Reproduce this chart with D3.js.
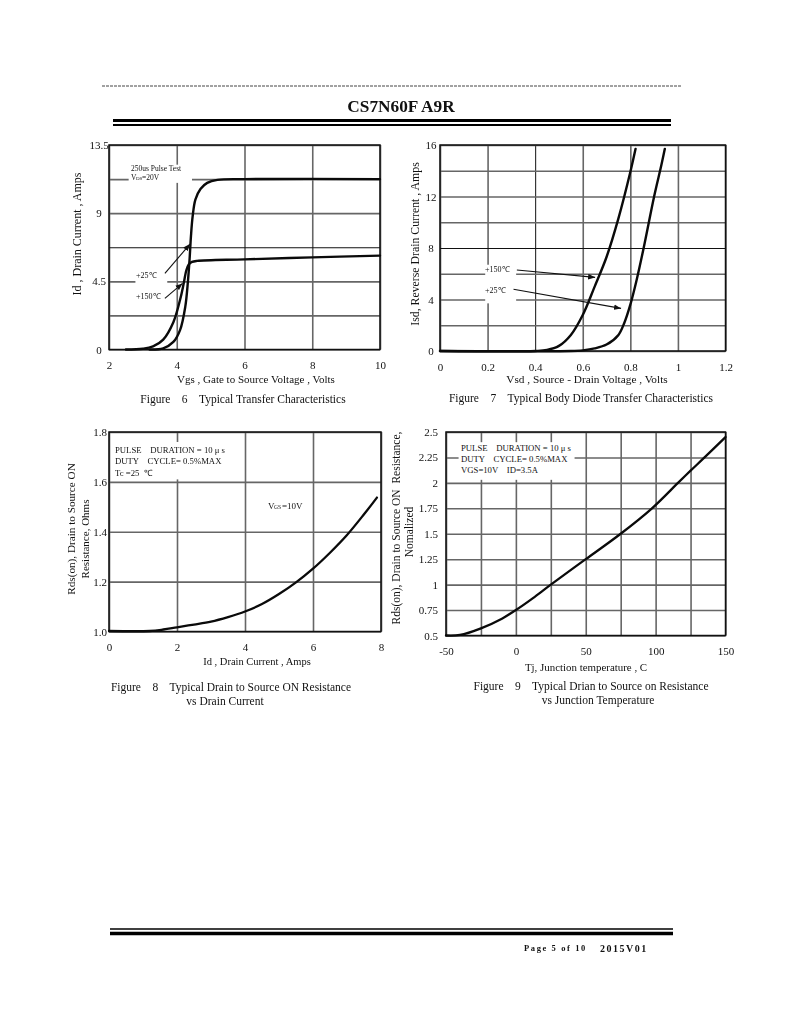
<!DOCTYPE html>
<html>
<head>
<meta charset="utf-8">
<script src="https://cdn.jsdelivr.net/npm/d3@7"></script>
<style>
body { margin: 0; background: #fff; }
svg { display: block; filter: blur(0.4px); }
text { font-family: "Liberation Serif", serif; fill: #111; white-space: pre; }
.domain { display: none; }
</style>
</head>
<body>
<svg id="page" width="800" height="1035"></svg>
<script>
// figure 6 - transfer characteristics
var fig6X = [2, 4, 6, 8, 10];
var fig6Y = [0, 2.25, 4.5, 6.75, 9, 11.25, 13.5];
var fig6YLabels = ["0", "", "4.5", "", "9", "", "13.5"];
var vgs25 = [3.2, 3.6, 3.9, 4.1, 4.25, 4.33, 4.38, 4.42, 4.47, 4.55, 4.7, 4.9, 5.2, 6, 10];
var id25 = [0, 0.08, 0.5, 1.3, 2.8, 4.5, 6, 7.5, 8.8, 9.9, 10.6, 11, 11.2, 11.25, 11.25];
var vgs150 = [2.5, 3, 3.3, 3.6, 3.9, 4.1, 4.2, 4.28, 4.35, 4.45, 4.6, 6, 8, 10];
var id150 = [0, 0.05, 0.2, 0.65, 1.8, 3.3, 4.3, 5.2, 5.6, 5.78, 5.85, 5.95, 6.08, 6.2];

// figure 7 - body diode
var fig7X = [0, 0.2, 0.4, 0.6, 0.8, 1, 1.2];
var fig7Y = [0, 2, 4, 6, 8, 10, 12, 14, 16];
var fig7YLabels = ["0", "", "4", "", "8", "", "12", "", "16"];
var vsd150 = [0, 0.4, 0.45, 0.5, 0.55, 0.6, 0.65, 0.7, 0.75, 0.8, 0.822];
var isd150 = [0, 0, 0.08, 0.4, 1.25, 2.8, 5, 7.3, 10.3, 13.9, 15.7];
var vsd25 = [0, 0.55, 0.6, 0.65, 0.7, 0.75, 0.775, 0.8, 0.825, 0.856, 0.9, 0.93, 0.945];
var isd25 = [0, 0, 0.05, 0.2, 0.5, 1.25, 2.2, 3.6, 5.4, 8, 12, 14.4, 15.7];

// figure 8 - on resistance vs drain current
var fig8X = [0, 2, 4, 6, 8];
var fig8Y = [1, 1.2, 1.4, 1.6, 1.8];
var fig8YLabels = ["1.0", "1.2", "1.4", "1.6", "1.8"];
var idCurrent = [0, 1.2, 1.6, 2, 2.5, 3, 3.5, 4, 4.5, 5, 5.5, 6, 6.5, 7, 7.5, 7.88];
var rdsOn = [1.002, 1.002, 1.008, 1.017, 1.028, 1.04, 1.058, 1.08, 1.11, 1.15, 1.197, 1.252, 1.316, 1.387, 1.47, 1.537];

// figure 9 - on resistance vs temperature
var fig9X = [-50, -25, 0, 25, 50, 75, 100, 125, 150];
var fig9XLabels = ["-50", "", "0", "", "50", "", "100", "", "150"];
var fig9Y = [0.5, 0.75, 1, 1.25, 1.5, 1.75, 2, 2.25, 2.5];
var fig9YLabels = ["0.5", "0.75", "1", "1.25", "1.5", "1.75", "2", "2.25", "2.5"];
var tj = [-50, -40, -25, -10, 0, 12, 25, 50, 75, 97, 116, 125, 135, 150];
var rdsNorm = [0.5, 0.505, 0.57, 0.665, 0.75, 0.865, 1, 1.25, 1.5, 1.745, 2, 2.12, 2.25, 2.45];

var svg = d3.select("#page");

svg.append("defs").append("marker")
  .attr("id", "arrow")
  .attr("viewBox", "0 0 10 8")
  .attr("refX", 10)
  .attr("refY", 4)
  .attr("markerWidth", 7)
  .attr("markerHeight", 6)
  .attr("markerUnits", "userSpaceOnUse")
  .attr("orient", "auto")
  .append("path")
  .attr("d", "M0,0L10,4L0,8Z")
  .attr("fill", "#111");

function txt(s, x, y, size, anchor, weight) {
  return svg.append("text")
    .attr("x", x)
    .attr("y", y)
    .attr("dy", "0.35em")
    .attr("font-size", size)
    .attr("text-anchor", anchor || "middle")
    .attr("font-weight", weight || "normal")
    .text(s);
}

function vtxt(s, x, y, size) {
  return svg.append("text")
    .attr("transform", "translate(" + x + "," + y + ") rotate(-90)")
    .attr("dy", "0.35em")
    .attr("font-size", size)
    .attr("text-anchor", "middle")
    .text(s);
}

// draws frame, grid and tick labels, hands back the scales
function panel(c) {
  var x = d3.scaleLinear().domain(c.xDomain).range([c.left, c.right]);
  var y = d3.scaleLinear().domain(c.yDomain).range([c.bottom, c.top]);
  var g = svg.append("g");

  g.append("g")
    .attr("transform", "translate(0," + c.bottom + ")")
    .call(d3.axisBottom(x).tickValues(c.xTicks).tickSize(-(c.bottom - c.top)).tickPadding(12)
      .tickFormat(function (d, i) { return c.xLabels ? c.xLabels[i] : d; }))
    .call(styleAxis, c.thinX);

  var yAxis = g.append("g")
    .attr("transform", "translate(" + c.left + ",0)")
    .call(d3.axisLeft(y).tickValues(c.yTicks).tickSize(-(c.right - c.left)).tickPadding(c.yPad)
      .tickFormat(function (d, i) { return c.yLabels[i]; }))
    .call(styleAxis, c.thinY);

  if (c.yMiddle) {
    yAxis.selectAll(".tick text").attr("text-anchor", "middle");
  }

  // white boxes that keep the grid away from the notes
  (c.masks || []).forEach(function (m) {
    g.append("rect")
      .attr("x", x(m[0]))
      .attr("y", y(m[3]))
      .attr("width", x(m[1]) - x(m[0]))
      .attr("height", y(m[2]) - y(m[3]))
      .attr("fill", "#fff");
  });

  g.append("rect")
    .attr("x", c.left)
    .attr("y", c.top)
    .attr("width", c.right - c.left)
    .attr("height", c.bottom - c.top)
    .attr("fill", "none")
    .attr("stroke", "#111")
    .attr("stroke-width", 1.5);

  return { x: x, y: y };
}

function styleAxis(sel, thin) {
  sel.selectAll(".tick line")
    .attr("stroke", function (d) { return thin && thin.includes(d) ? "#111" : "#666"; })
    .attr("stroke-width", function (d) { return thin && thin.includes(d) ? 1 : 1.6; });
  sel.selectAll(".tick text")
    .attr("font-size", 11)
    .attr("fill", "#222");
}

function curve(s, xs, ys, width) {
  var line = d3.line()
    .x(function (d) { return s.x(d); })
    .y(function (d, i) { return s.y(ys[i]); })
    .curve(d3.curveCatmullRom.alpha(0.5));
  svg.append("path")
    .attr("d", line(xs))
    .attr("fill", "none")
    .attr("stroke", "#0a0a0a")
    .attr("stroke-width", width)
    .attr("stroke-linecap", "round");
}

function arrow(s, x0, y0, x1, y1) {
  svg.append("line")
    .attr("x1", s.x(x0)).attr("y1", s.y(y0))
    .attr("x2", s.x(x1)).attr("y2", s.y(y1))
    .attr("stroke", "#111")
    .attr("stroke-width", 1.1)
    .attr("marker-end", "url(#arrow)");
}

// page furniture
svg.append("line").attr("x1", 102).attr("x2", 682).attr("y1", 86).attr("y2", 86)
  .attr("stroke", "#444").attr("stroke-width", 1).attr("stroke-dasharray", "3,1");
txt("CS7N60F A9R", 401, 106, 17.3, "middle", "bold");
svg.append("line").attr("x1", 113).attr("x2", 671).attr("y1", 120.5).attr("y2", 120.5)
  .attr("stroke", "#000").attr("stroke-width", 3);
svg.append("line").attr("x1", 113).attr("x2", 671).attr("y1", 125).attr("y2", 125)
  .attr("stroke", "#000").attr("stroke-width", 2);
svg.append("line").attr("x1", 110).attr("x2", 673).attr("y1", 929).attr("y2", 929)
  .attr("stroke", "#000").attr("stroke-width", 1.5);
svg.append("line").attr("x1", 110).attr("x2", 673).attr("y1", 933.5).attr("y2", 933.5)
  .attr("stroke", "#000").attr("stroke-width", 3.5);
txt("Page 5 of 10", 524, 948, 8.5, "start", "bold").attr("letter-spacing", 1.6);
txt("2015V01", 600, 948, 10, "start", "bold").attr("letter-spacing", 1.5);

// figure 6
var s6 = panel({
  left: 109, right: 380, top: 145, bottom: 349.5,
  xDomain: [2, 10], yDomain: [0, 13.5],
  xTicks: fig6X, yTicks: fig6Y, yLabels: fig6YLabels,
  thinY: [6.75], yPad: 10, yMiddle: true,
  masks: [[2.58, 4.45, 11, 12.2], [2.78, 3.72, 3.2, 5.3]]
});
curve(s6, vgs150, id150, 2.4);
curve(s6, vgs25, id25, 2.4);
arrow(s6, 3.65, 5.02, 4.39, 6.96);
arrow(s6, 3.65, 3.37, 4.17, 4.36);
txt("250us Pulse Test", 131, 168, 7.5, "start");
txt("V", 131, 177, 7.5, "start");
txt("DS", 136, 178, 5, "start");
txt("=20V", 142, 177, 7.5, "start");
txt("+25℃", 136, 275, 8, "start");
txt("+150℃", 136, 296, 8, "start");
vtxt("Id , Drain Current , Amps", 77, 234, 12);
txt("Vgs , Gate to Source Voltage , Volts", 256, 379, 11);
txt("Figure    6    Typical Transfer Characteristics", 243, 399, 11.5);

// figure 7
var s7 = panel({
  left: 440, right: 725.5, top: 145, bottom: 351,
  xDomain: [0, 1.2], yDomain: [0, 16],
  xTicks: fig7X, yTicks: fig7Y, yLabels: fig7YLabels,
  thinX: [0.4], thinY: [8], yPad: 9, yMiddle: true,
  masks: [[0.19, 0.32, 3.7, 6.7]]
});
curve(s7, vsd150, isd150, 2.4);
curve(s7, vsd25, isd25, 2.4);
arrow(s7, 0.323, 6.29, 0.652, 5.72);
arrow(s7, 0.309, 4.79, 0.761, 3.31);
txt("+150℃", 485, 269, 8, "start");
txt("+25℃", 485, 290, 8, "start");
vtxt("Isd, Reverse Drain Current , Amps", 415, 244, 11.8);
txt("Vsd , Source - Drain Voltage , Volts", 587, 379, 11.3);
txt("Figure    7    Typical Body Diode Transfer Characteristics", 581, 398, 11.5);

// figure 8
var s8 = panel({
  left: 109, right: 381, top: 432, bottom: 631.5,
  xDomain: [0, 8], yDomain: [1, 1.8],
  xTicks: fig8X, yTicks: fig8Y, yLabels: fig8YLabels,
  yPad: 2,
  masks: [[0.12, 3.4, 1.61, 1.76]]
});
curve(s8, idCurrent, rdsOn, 2.3);
txt("PULSE    DURATION = 10 μ s", 115, 450, 8.7, "start");
txt("DUTY    CYCLE= 0.5%MAX", 115, 461, 8.7, "start");
txt("Tc =25  ℃", 115, 473, 8.7, "start");
txt("V", 268, 506, 9, "start");
txt("GS", 274, 507.5, 5.5, "start");
txt("=10V", 282, 506, 9, "start");
vtxt("Rds(on), Drain to Source ON", 71, 529, 11.2);
vtxt("Resistance, Ohms", 85, 539, 11);
txt("Id , Drain Current , Amps", 257, 661, 10.5);
txt("Figure    8    Typical Drain to Source ON Resistance", 231, 687, 11.5);
txt("vs Drain Current", 225, 701, 11.5);

// figure 9
var s9 = panel({
  left: 446, right: 725.5, top: 432, bottom: 635.5,
  xDomain: [-50, 150], yDomain: [0.5, 2.5],
  xTicks: fig9X, xLabels: fig9XLabels, yTicks: fig9Y, yLabels: fig9YLabels,
  yPad: 8,
  masks: [[-41, 42, 2.03, 2.4]]
});
curve(s9, tj, rdsNorm, 2.3);
txt("PULSE    DURATION = 10 μ s", 461, 448, 8.7, "start");
txt("DUTY    CYCLE= 0.5%MAX", 461, 459, 8.7, "start");
txt("VGS=10V    ID=3.5A", 461, 470, 8.7, "start");
vtxt("Rds(on), Drain to Source ON  Resistance,", 396, 528, 11.5);
vtxt("Nomalized", 409, 532, 11.5);
txt("Tj, Junction temperature , C", 586, 667, 10.9);
txt("Figure    9    Typical Drian to Source on Resistance", 591, 686, 11.5);
txt("vs Junction Temperature", 598, 700, 11.5);
</script>
</body>
</html>
